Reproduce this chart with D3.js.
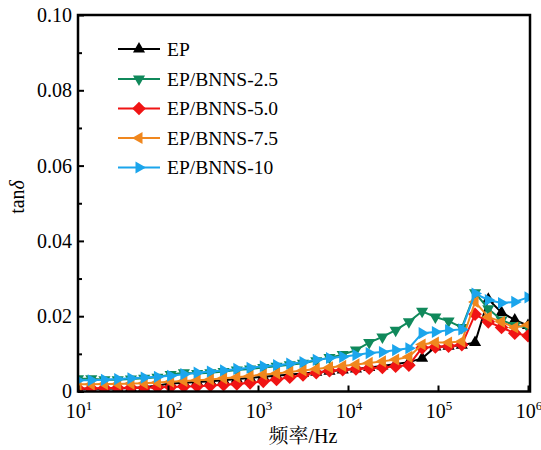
<!DOCTYPE html>
<html>
<head>
<meta charset="utf-8">
<script src="https://cdn.jsdelivr.net/npm/d3@7"></script>
<style>
  html, body { margin: 0; padding: 0; background: #fff; }
  svg { display: block; }
</style>
</head>
<body>
<svg id="chart" width="541" height="450"></svg>
<script>
// Measurement frequencies (Hz), log-spaced sweep from 10 Hz to 1 MHz
const freqs = [10, 14.03, 19.68, 27.62, 38.74, 54.35, 76.26, 106.99, 150.1, 210.6, 295.5, 414.6,
  581.7, 816.1, 1145, 1607, 2254, 3162, 4437, 6225, 8733, 12253, 17191, 24118, 33838, 47475,
  66608, 93451, 131113, 183951, 258082, 362088, 508013, 712740, 1000000];

// Dielectric loss tangent of each sample
const ep = [0.0007, 0.0007, 0.0007, 0.0008, 0.0009, 0.0011, 0.0016, 0.0021, 0.0023, 0.0025, 0.0027, 0.003,
  0.0033, 0.0036, 0.0039, 0.0042, 0.0045, 0.0048, 0.0051, 0.0054, 0.0057, 0.006, 0.0064, 0.0068, 0.0073, 0.0078,
  0.0088, 0.0118, 0.012, 0.0123, 0.013, 0.0245, 0.021, 0.019, 0.0175];
const bnns25 = [0.0034, 0.0034, 0.0031, 0.0031, 0.0033, 0.0035, 0.0038, 0.0045, 0.005, 0.0048, 0.005, 0.0053,
  0.0057, 0.006, 0.0064, 0.0067, 0.0071, 0.0075, 0.0082, 0.009, 0.0098, 0.011, 0.013, 0.0145, 0.0163, 0.0185,
  0.0213, 0.0198, 0.0187, 0.017, 0.0262, 0.022, 0.019, 0.0175, 0.017];
const bnns50 = [0.0008, 0.0008, 0.0009, 0.0009, 0.001, 0.001, 0.0011, 0.0012, 0.0013, 0.0014, 0.0016, 0.0018,
  0.002, 0.0023, 0.0027, 0.0032, 0.0038, 0.0044, 0.005, 0.0055, 0.0058, 0.006, 0.0062, 0.0064, 0.0067, 0.007,
  0.0116, 0.0118, 0.012, 0.0124, 0.0205, 0.0185, 0.017, 0.0155, 0.0148];
const bnns75 = [0.0019, 0.0019, 0.002, 0.002, 0.0021, 0.0022, 0.0024, 0.0026, 0.0028, 0.003, 0.0032, 0.0035,
  0.0038, 0.0041, 0.0045, 0.0048, 0.0052, 0.0056, 0.006, 0.0064, 0.0068, 0.0072, 0.0076, 0.008, 0.0085, 0.0092,
  0.0125, 0.013, 0.013, 0.0133, 0.0238, 0.0198, 0.0185, 0.017, 0.0177];
const bnns10 = [0.003, 0.003, 0.0031, 0.0033, 0.0035, 0.0037, 0.0039, 0.0042, 0.0046, 0.005, 0.0053, 0.0056,
  0.006, 0.0063, 0.0067, 0.007, 0.0074, 0.0078, 0.0084, 0.0089, 0.0092, 0.0097, 0.0102, 0.0105, 0.011, 0.0115,
  0.0155, 0.0158, 0.0163, 0.0165, 0.026, 0.0243, 0.0235, 0.0238, 0.025];

const seriesNames = ["EP", "EP/BNNS-2.5", "EP/BNNS-5.0", "EP/BNNS-7.5", "EP/BNNS-10"];
const seriesValues = [ep, bnns25, bnns50, bnns75, bnns10];
const seriesColors = ["#000000", "#10895b", "#f01414", "#f0871e", "#1ba5ec"];
const seriesMarkers = ["up", "down", "diamond", "left", "right"];

const xTicks = [1e1, 1e2, 1e3, 1e4, 1e5, 1e6];
const yTicks = [0, 0.02, 0.04, 0.06, 0.08, 0.10];
const yMinorTicks = [0.01, 0.03, 0.05, 0.07, 0.09];

const SERIF = "'Liberation Serif', 'Times New Roman', Times, 'DejaVu Serif', serif";
const CJK = "'Liberation Serif', 'Noto Serif CJK SC', 'Noto Sans CJK SC', serif";

const svg = d3.select("#chart");
const plotL = 78, plotR = 528, plotT = 15, plotB = 391.5;

const x = d3.scaleLog().domain([10, 1e6]).range([plotL, plotR]);
const y = d3.scaleLinear().domain([0, 0.1]).range([plotB, plotT]);

// marker path generators
function markerPath(kind) {
  const r = 7, d = 6.8;
  const h = r * 0.866;
  switch (kind) {
    case "up": return `M0,${-r}L${h},${r / 2}L${-h},${r / 2}Z`;
    case "down": return `M0,${r}L${h},${-r / 2}L${-h},${-r / 2}Z`;
    case "left": return `M${-r},0L${r / 2},${-h}L${r / 2},${h}Z`;
    case "right": return `M${r},0L${-r / 2},${-h}L${-r / 2},${h}Z`;
    case "diamond": return `M0,${-d}L${d},0L0,${d}L${-d},0Z`;
  }
}

// clip marks to plotting region
svg.append("defs").append("clipPath").attr("id", "plotclip")
  .append("rect").attr("x", plotL).attr("y", plotT).attr("width", plotR - plotL + 2).attr("height", plotB - plotT);

const plot = svg.append("g").attr("clip-path", "url(#plotclip)");
const line = d3.line().x((d, i) => x(freqs[i])).y(d => y(d));

seriesValues.forEach((vals, si) => {
  const g = plot.append("g");
  g.append("path").datum(vals)
    .attr("d", line)
    .attr("fill", "none")
    .attr("stroke", seriesColors[si])
    .attr("stroke-width", 2);
  g.selectAll("path.mk").data(vals).join("path")
    .attr("class", "mk")
    .attr("d", markerPath(seriesMarkers[si]))
    .attr("transform", (d, i) => `translate(${x(freqs[i])},${y(d)})`)
    .attr("fill", seriesColors[si]);
});

// axes
const xAxis = svg.append("g").attr("transform", `translate(0,${plotB})`)
  .call(d3.axisBottom(x).tickValues(xTicks).tickSize(-6).tickFormat(""));
xAxis.select(".domain").remove();
xAxis.selectAll("line").attr("stroke-width", 2);

const yAxis = svg.append("g").attr("transform", `translate(${plotL},0)`)
  .call(d3.axisLeft(y).tickValues(yTicks).tickSize(-6).tickPadding(6)
    .tickFormat(d => d === 0 ? "0" : d3.format(".2f")(d)));
yAxis.select(".domain").remove();
yAxis.attr("font-family", SERIF).attr("font-size", 20);
yAxis.selectAll("line").attr("stroke-width", 2);
yAxis.selectAll("text").attr("font-size", 20).attr("font-family", SERIF).attr("fill", "#000");

const yMinor = svg.append("g").attr("transform", `translate(${plotL},0)`)
  .call(d3.axisLeft(y).tickValues(yMinorTicks).tickSize(-4).tickFormat(""));
yMinor.select(".domain").remove();
yMinor.selectAll("line").attr("stroke-width", 2);

// frame
svg.append("rect")
  .attr("x", plotL).attr("y", plotT)
  .attr("width", plotR + 2 - plotL).attr("height", plotB - plotT)
  .attr("fill", "none").attr("stroke", "#000").attr("stroke-width", 2.5);

// x tick labels as powers of ten
const xl = svg.append("g").selectAll("text").data(xTicks).join("text")
  .attr("x", d => x(d) + 1)
  .attr("y", 418)
  .attr("text-anchor", "middle")
  .attr("font-family", SERIF)
  .attr("font-size", 20);
xl.append("tspan").text("10");
xl.append("tspan").attr("dy", -8).attr("font-size", 13).text(d => Math.round(Math.log10(d)));

// axis titles
svg.append("text")
  .attr("x", (plotL + plotR) / 2).attr("y", 443)
  .attr("text-anchor", "middle").attr("font-size", 20)
  .attr("font-family", CJK)
  .text("频率/Hz");

const yt = svg.append("text")
  .attr("transform", "translate(24,197) rotate(-90)")
  .attr("text-anchor", "middle").attr("font-size", 20)
  .attr("font-family", SERIF);
yt.append("tspan").text("tan");
yt.append("tspan").attr("font-style", "italic").text("δ");

// legend
const legend = svg.append("g");
const legendY = [49, 79, 108.5, 138, 167.5];
seriesNames.forEach((name, i) => {
  const g = legend.append("g").attr("transform", `translate(0,${legendY[i]})`);
  g.append("line").attr("x1", 118).attr("x2", 160).attr("y1", 0).attr("y2", 0)
    .attr("stroke", seriesColors[i]).attr("stroke-width", 2);
  g.append("path").attr("d", markerPath(seriesMarkers[i]))
    .attr("transform", "translate(139,0)")
    .attr("fill", seriesColors[i]);
  g.append("text").attr("x", 167).attr("y", 0).attr("dy", "0.34em")
    .attr("font-family", SERIF)
    .attr("font-size", 19.5).text(name);
});
</script>
</body>
</html>
